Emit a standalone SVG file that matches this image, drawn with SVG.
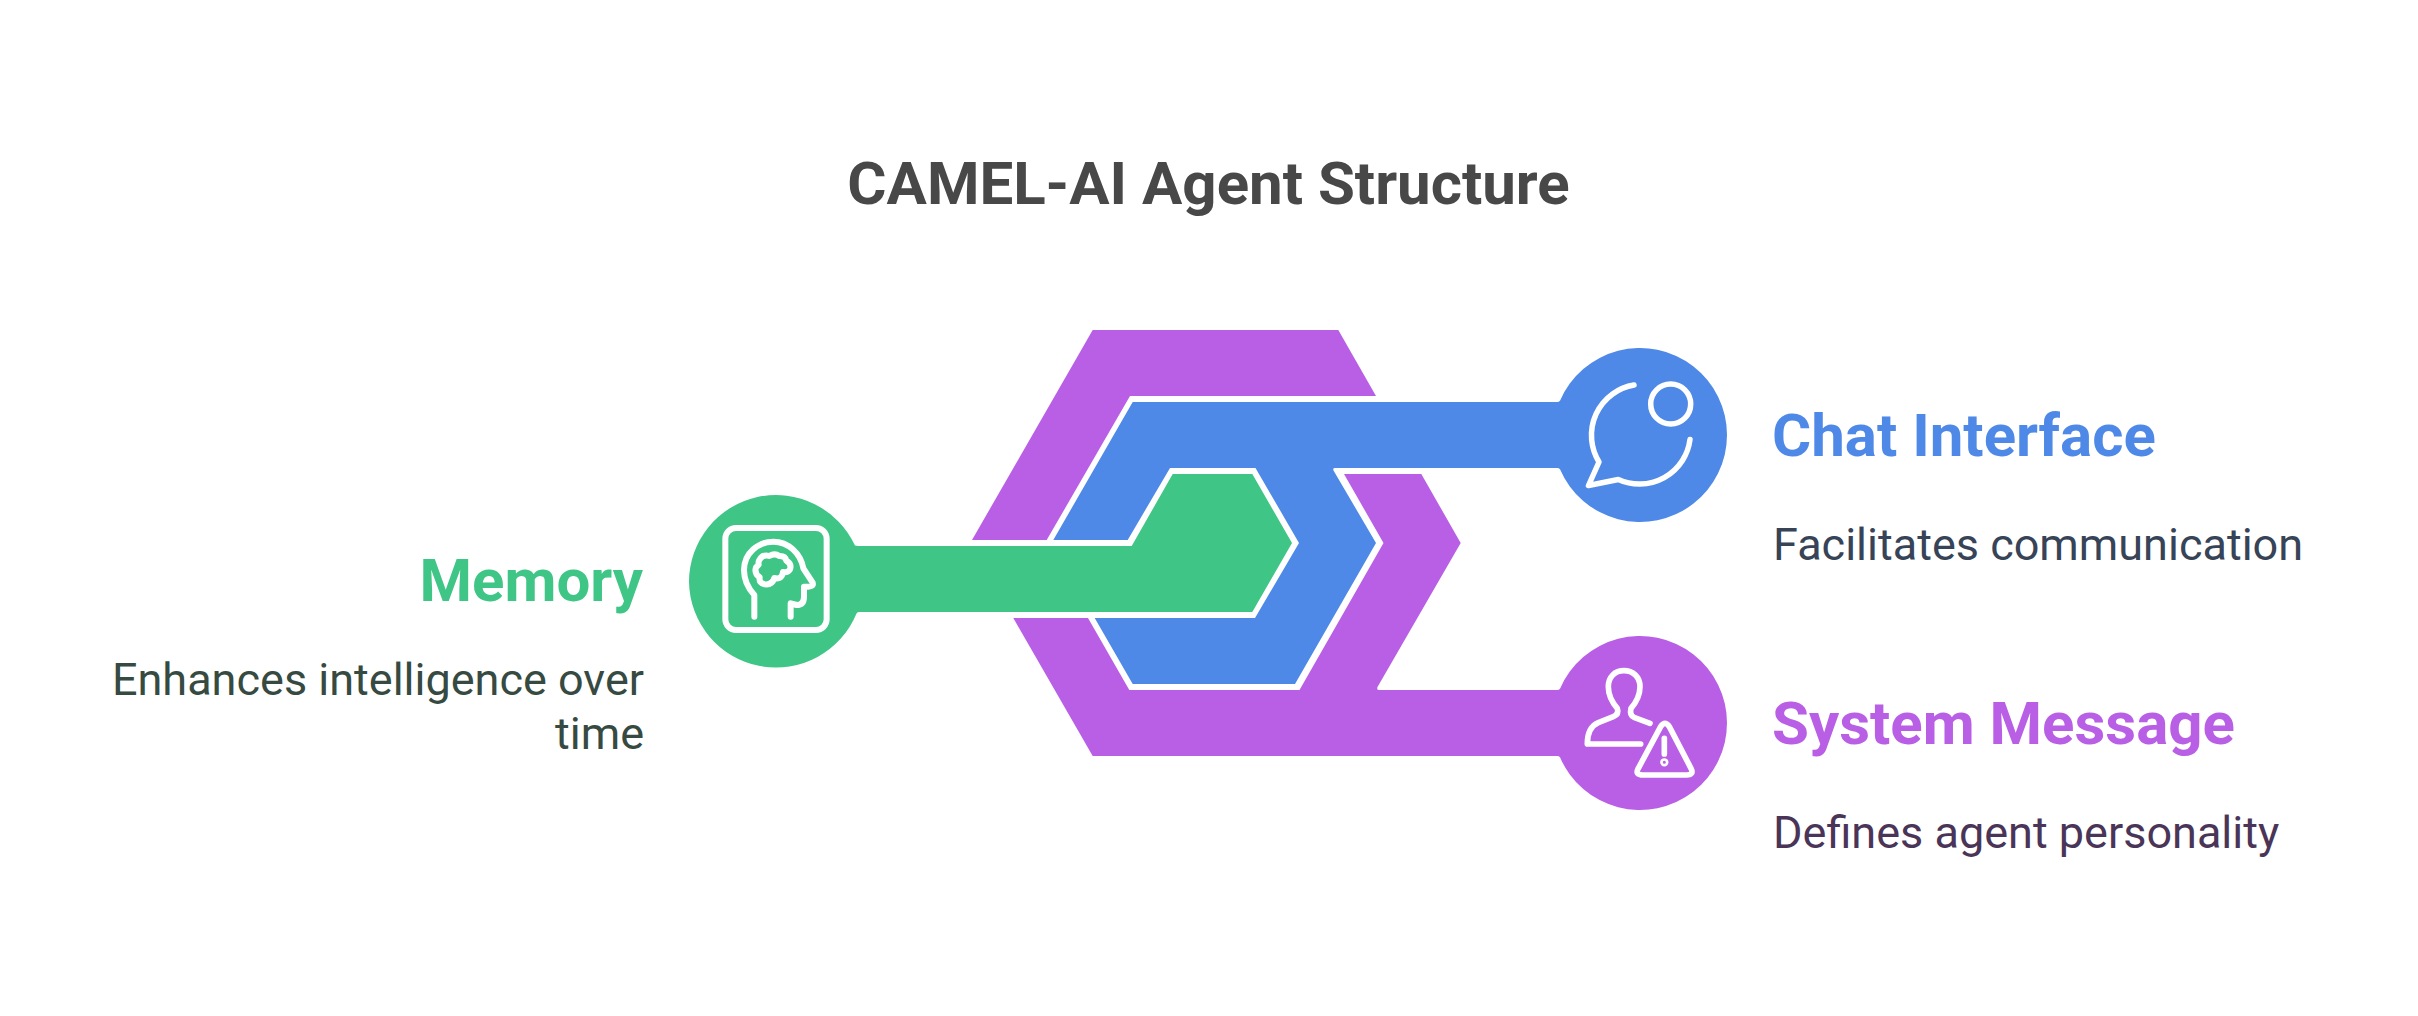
<svg xmlns="http://www.w3.org/2000/svg" width="2418" height="1016" viewBox="0 0 2418 1016">
<style>
text{font-family:Roboto,"Liberation Sans",sans-serif}
.title{font-size:60px;font-weight:700;fill:#484848;text-anchor:middle}
.head{font-size:60px;font-weight:700}
.desc{font-size:45px;font-weight:400}
.end{text-anchor:end}
.icon{fill:none;stroke:#fff;stroke-linecap:round;stroke-linejoin:round}
.purple{fill:#B85FE6}.blue{fill:#4E89E7}.green{fill:#3FC686}
</style>
<rect width="2418" height="1016" fill="#fff"/>
<text class="title" x="1208.5" y="204">CAMEL-AI Agent Structure</text>
<g id="connectors">
<path id="band-system-upper" class="purple" d="M1092.7,330L1338.3,330L1376,396L1130,396L1046.7,540L972,540Z"/>
<path id="band-system" class="purple" d="M1013.3,618L1088,618L1129.3,690L1299.5,690L1383.5,543L1344,474L1421.3,474L1460.7,543L1377.5,687Q1376.5,690 1379,690L1557,690Q1559,690 1560,688.8A87,87 0 1 1 1560,757.2Q1559,756 1557,756L1092.7,756Z"/>
<path id="band-chat" class="blue" d="M1132.7,402L1557,402Q1559,402 1560,400.8A87,87 0 1 1 1560,469.2Q1559,468 1557,468L1335,468Q1332.5,468 1333.5,470.5L1376,543L1295,684L1132.7,684L1094.7,618L1255,618L1299,543L1255.5,468L1170,468L1127.7,540L1053.3,540Z"/>
<path id="band-memory" class="green" d="M689,582A87,87 0 0 1 855,545.6Q856,546 858,546L1131.7,546L1172.7,474L1252.3,474L1292,543L1252.3,612L859,612Q857,612 856.5,613.5A87,87 0 0 1 689,582Z"/>
</g>
<g id="node-memory">
<g class="icon" transform="translate(680,490) scale(.3333)" stroke-width="18">
<rect x="136" y="114" width="304" height="306" rx="32"/>
<path d="M223,380L223,315C200,290 192,265 192,240C192,190 235,155 280,155C325,155 362,190 370,235L398,278Q402,290 385,290L372,290L372,320Q372,345 350,345L332,340L332,380"/>
<path d="M240,207Q250,192 268,198Q284,188 298,198Q316,197 319,212Q336,222 330,238Q322,250 309,246Q306,270 283,264Q276,286 254,283Q236,280 239,262Q222,250 228,232L236,224Q234,214 240,207Z"/>
</g>
<text class="head end" x="643" y="600.5" fill="#3FC686">Memory</text>
<text class="desc end" x="644" y="694.5" fill="#364A42">Enhances intelligence over</text>
<text class="desc end" x="644" y="748.5" fill="#364A42">time</text>
</g>
<g id="node-chat">
<g class="icon" stroke-width="5.5">
<circle cx="1670.7" cy="404" r="20"/>
<path d="M1634,385A51,51 0 0 0 1599,462L1588.5,485.5L1618.3,479.5A51,51 0 0 0 1690,439.5"/>
</g>
<text class="head" x="1772" y="456" fill="#4E89E7">Chat Interface</text>
<text class="desc" x="1773" y="559.7" fill="#374357">Facilitates communication</text>
</g>
<g id="node-system">
<g class="icon" transform="translate(1530,630) scale(.3333)" stroke-width="17">
<path d="M360,280L312,262Q298,255 303,235C320,215 330,190 330,170C330,140 308,122 282,122C255,122 235,140 235,170C235,190 245,215 262,235Q268,252 250,260L205,278Q172,292 172,342L332,342"/>
<path d="M392,290Q405,270 418,290L483,415Q493,435 470,435L340,435Q313,435 325,415Z"/>
<path d="M403,325L403,372"/>
<circle cx="403" cy="397" r="4"/>
</g>
<text class="head" x="1772" y="744" fill="#B85FE6">System Message</text>
<text class="desc" x="1773" y="848" fill="#4A3558">Defines agent personality</text>
</g>
</svg>
